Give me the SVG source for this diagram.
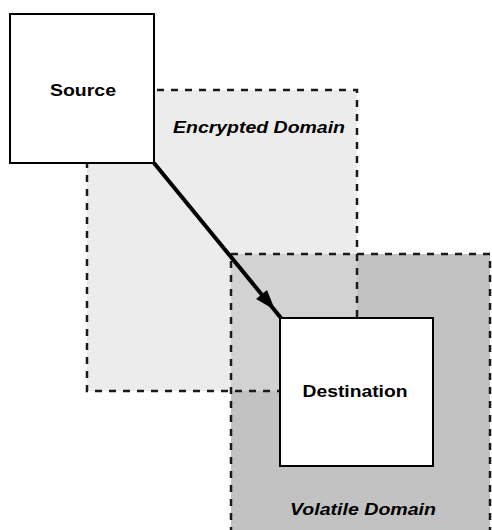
<svg xmlns="http://www.w3.org/2000/svg" width="492" height="530" viewBox="0 0 492 530">
<style>
.dom{stroke:#1a1a1a;stroke-width:2.5;stroke-dasharray:7 7;}
.box{fill:#fff;stroke:#000;stroke-width:2;}
.lbl{font-family:"Liberation Sans",Arial,sans-serif;font-weight:bold;fill:#000;}
.dl{font-family:"Liberation Sans",Arial,sans-serif;font-weight:bold;font-style:italic;fill:#000;}
</style>
<rect width="492" height="530" fill="#fff"/>
<g id="encrypted-domain">
<rect x="87" y="90" width="270" height="301" fill="#ececec"/>
</g>
<g id="volatile-domain">
<rect x="231" y="254" width="259" height="280" fill="#c2c2c2"/>
<rect x="231" y="254" width="126" height="137" fill="#d2d2d2"/>
<rect x="231" y="254" width="259" height="280" fill="none" class="dom"/>
<text class="dl" x="363" y="515" font-size="16" text-anchor="middle" textLength="146" lengthAdjust="spacingAndGlyphs">Volatile Domain</text>
</g>
<g id="encrypted-outline">
<rect x="87" y="90" width="270" height="301" fill="none" class="dom"/>
<text class="dl" x="259" y="133" font-size="16" text-anchor="middle" textLength="172" lengthAdjust="spacingAndGlyphs">Encrypted Domain</text>
</g>
<g id="connectors">
<line x1="154" y1="163" x2="281" y2="318" stroke="#000" stroke-width="4"/>
<polygon points="275,310 256,299 267,290" fill="#000"/>
</g>
<g id="source">
<rect class="box" x="10" y="14" width="144" height="149"/>
<text class="lbl" x="83" y="96" font-size="17" text-anchor="middle" textLength="66" lengthAdjust="spacingAndGlyphs">Source</text>
</g>
<g id="destination">
<rect class="box" x="280" y="318" width="153" height="148"/>
<text class="lbl" x="355" y="397" font-size="17" text-anchor="middle" textLength="105" lengthAdjust="spacingAndGlyphs">Destination</text>
</g>
</svg>
